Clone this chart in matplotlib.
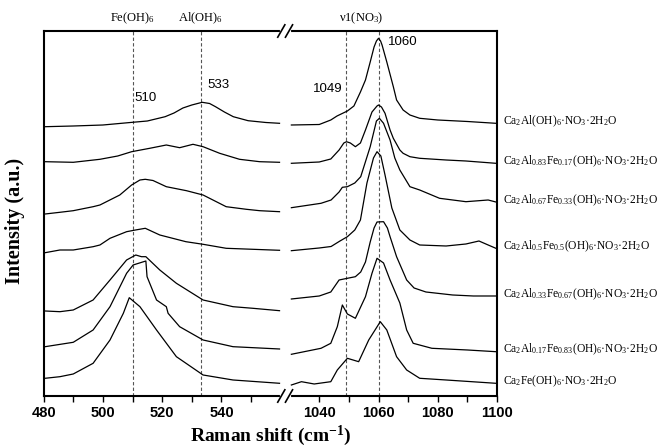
import numpy as np
import matplotlib
matplotlib.use('Agg')
import matplotlib.pyplot as plt
import matplotlib.transforms as mtransforms

plt.rcParams['font.family'] = 'Liberation Serif'
plt.rcParams['mathtext.fontset'] = 'custom'
plt.rcParams['mathtext.rm'] = 'Liberation Serif'
plt.rcParams['mathtext.it'] = 'Liberation Serif:italic'
plt.rcParams['mathtext.bf'] = 'Liberation Serif:bold'

# Raman spectra (x = Raman shift in cm-1, y = stacked intensity, a.u.)
x_al100 = [480.5, 490, 500, 510, 515, 521, 524, 527, 530, 533.5, 536, 538, 541, 544, 549, 555, 559.6,
           1030.6, 1040, 1043.9, 1046, 1049.5, 1051.7, 1053.9, 1055.6, 1057.2, 1058.5, 1059.3, 1060, 1060.7,
           1061.2, 1062.8, 1065, 1066.1, 1068.3, 1070.6, 1073.9, 1080, 1090, 1099.6]
y_al100 = [269.3, 270, 271, 273.7, 275, 279.3, 283, 288, 291, 293.7, 292.5, 289.3, 284, 279.3, 275.3, 273.5, 272.7,
           271, 271.5, 276, 280, 285, 290, 304, 316, 334, 349, 355, 357.7, 355,
           351, 334, 309.3, 296, 286, 281, 277.7, 276, 274.5, 272.7]

x_al83 = [480.5, 490, 499, 505, 509.7, 515.8, 521.4, 525.9, 530.4, 533.8, 539.4, 546.1, 552.9, 559.6,
          1030.6, 1040, 1043.9, 1046.7, 1048.3, 1049.2, 1050.5, 1052.2, 1053.9, 1055.6, 1057.8, 1059.5, 1060,
          1061, 1062.2, 1063.9, 1065, 1067.2, 1068.3, 1070.6, 1073.9, 1082.8, 1089.5, 1099.6]
y_al83 = [234.3, 233.7, 236.7, 240, 244.3, 247.7, 251, 248.3, 251.7, 249.3, 242.7, 236.7, 234.3, 233.7,
          232.7, 234, 237, 246, 253, 254.3, 253, 249.3, 253, 266, 284, 290, 291,
          289, 282.7, 266, 257.7, 246, 242.7, 239.3, 237.7, 236, 235, 232.7]

x_al67 = [480.5, 485.5, 490, 496.7, 499, 505.7, 509.7, 512.5, 514.3, 516.9, 521.4, 528.2, 533.8, 541.6,
          548.4, 552.9, 559.6,
          1030.6, 1040.6, 1044, 1046.7, 1047.8, 1049.5, 1052, 1054, 1057.2, 1059.3, 1060.3, 1061.7,
          1063.9, 1065.5, 1067.2, 1070.6, 1073.9, 1080.6, 1089.5, 1097, 1099.6]
y_al67 = [182, 183.7, 185.3, 189.3, 191, 201, 211, 216, 216.7, 215.5, 209.3, 205.3, 201, 189.3,
          186.7, 185.3, 184.3,
          188.3, 192.7, 196, 204, 208.7, 209.3, 213, 219.3, 249.3, 275, 277.7, 272.7,
          256, 238, 226, 209.3, 206, 197.7, 194.3, 196, 194]

x_al50 = [480.5, 485.5, 490, 496.7, 499, 502.4, 508, 511, 514.3, 519.2, 528, 533.8, 541.6, 559.6,
          1030.6, 1040, 1044, 1047, 1049.5, 1052, 1053.9, 1056.1, 1058.3, 1059.5, 1060.8, 1062.2,
          1064.5, 1067.2, 1070.6, 1073.9, 1082.8, 1089.5, 1093.9, 1097, 1099.6]
y_al50 = [143.3, 146, 146, 149.3, 151, 157.7, 164.3, 166, 167.7, 161, 154.3, 151.7, 147.7, 145.7,
          145.3, 148, 149.5, 155, 159.3, 166, 176, 213, 238, 244.3, 240, 221,
          188, 166, 156, 151, 150, 152, 155, 151, 147.7]

x_al33 = [480.5, 485.5, 490, 496.7, 502.4, 508, 511.1, 513, 514.5, 519.2, 524.8, 533.8, 543.9, 550.6, 559.6,
          1030.6, 1040, 1043.9, 1046.7, 1049.5, 1052.2, 1054, 1055.6, 1057.2, 1058.5, 1059.5, 1061.7,
          1063, 1063.9, 1066.1, 1069.5, 1072, 1076, 1085, 1092, 1099.6]
y_al33 = [85, 84.3, 86, 96, 116, 136, 141, 139.3, 139.3, 126, 112.7, 96, 89.3, 87.7, 85.3,
          97, 100, 104, 116, 117.7, 119.3, 124, 134, 154, 168, 174, 174.3,
          168, 159.3, 139.3, 116, 108, 104, 101, 100, 100]

x_al17 = [480.5, 490, 496.7, 502.4, 508, 510.2, 514.5, 514.9, 518.1, 521.4, 522, 525.9, 533.8, 543.9, 559.6,
          1030.6, 1040.6, 1043.9, 1046.1, 1047.8, 1049.5, 1052.2, 1055.6, 1057.8, 1059.5, 1061.7,
          1063.9, 1067.2, 1069.5, 1071.7, 1078, 1090, 1099.6]
y_al17 = [49.3, 53.7, 66, 89.3, 122.7, 131, 135, 119.3, 96, 89.3, 82.7, 69.3, 56, 49.3, 47,
          41.7, 47.7, 52.7, 69.3, 91, 82, 77.7, 99.3, 122.7, 137.7, 133,
          116, 93, 66, 52.7, 47.7, 46, 44.3]

x_fe100 = [480.5, 485.5, 490, 496.7, 502.4, 506.9, 508.9, 512.5, 518.1, 524.8, 533.8, 543.9, 559.6,
           1030.6, 1034, 1038.3, 1043.9, 1046.1, 1049.5, 1053.3, 1056.7, 1060.6, 1062.8, 1066.1,
           1069.5, 1073.9, 1082.8, 1099.6]
y_fe100 = [17.7, 19.3, 22, 32.7, 56, 82.7, 98.3, 89.3, 66, 39.3, 21, 16, 12.7,
           11, 14.3, 12, 14.3, 26, 37.7, 34.3, 56, 74.3, 66, 39.3,
           26, 17.7, 16, 12.7]

sample_labels = [
    'Ca$_2$Al(OH)$_6$·NO$_3$·2H$_2$O',
    'Ca$_2$Al$_{0.83}$Fe$_{0.17}$(OH)$_6$·NO$_3$·2H$_2$O',
    'Ca$_2$Al$_{0.67}$Fe$_{0.33}$(OH)$_6$·NO$_3$·2H$_2$O',
    'Ca$_2$Al$_{0.5}$Fe$_{0.5}$(OH)$_6$·NO$_3$·2H$_2$O',
    'Ca$_2$Al$_{0.33}$Fe$_{0.67}$(OH)$_6$·NO$_3$·2H$_2$O',
    'Ca$_2$Al$_{0.17}$Fe$_{0.83}$(OH)$_6$·NO$_3$·2H$_2$O',
    'Ca$_2$Fe(OH)$_6$·NO$_3$·2H$_2$O',
]
spectra = [(x_al100, y_al100), (x_al83, y_al83), (x_al67, y_al67), (x_al50, y_al50),
           (x_al33, y_al33), (x_al17, y_al17), (x_fe100, y_fe100)]

peak_lines = [510, 533, 1049, 1060]
major_ticks = [480, 500, 520, 540, 1040, 1060, 1080, 1100]
minor_ticks = [490, 510, 530, 550, 1050, 1070, 1090]


# broken x axis: 480-560 and 1030-1100 on one axis
def to_pos(x):
    x = np.asarray(x, dtype=float)
    return np.where(x < 800, x - 480, x - 1030 + 83)


fig = plt.figure(figsize=(6.67, 4.48), dpi=100)
ax = fig.add_axes([0.0654, 0.1161, 0.6798, 0.8147])

for (xs, ys), lab in zip(spectra, sample_labels):
    xs = np.array(xs)
    ys = np.array(ys)
    lo = xs < 800
    ax.plot(to_pos(xs[lo]), ys[lo], color='black', lw=0.9)
    ax.plot(to_pos(xs[~lo]), ys[~lo], color='black', lw=0.9)
    ax.text(to_pos(1100) + 2, ys[-1] + 2, lab, fontsize=8.3, ha='left', va='center', clip_on=False)

for p in peak_lines:
    ax.axvline(to_pos(p), color='#555555', lw=0.8, ls=(0, (3, 2)), zorder=0)

ax.set_xlim(0, to_pos(1100))
ax.set_ylim(0, 365)

ax.set_xticks(to_pos(major_ticks))
ax.set_xticklabels([str(t) for t in major_ticks], fontfamily='Liberation Sans',
                   fontweight='bold', fontsize=10.5)
ax.set_xticks(to_pos(minor_ticks), minor=True)
ax.tick_params(axis='x', which='both', direction='out', length=4, width=1, top=False)
ax.set_yticks([])
for s in ax.spines.values():
    s.set_linewidth(1.5)

ax.set_xlabel('Raman shift (cm$^{\\mathbf{-1}}$)', fontsize=14, fontweight='bold', labelpad=2)
ax.set_ylabel('Intensity (a.u.)', fontsize=14.5, fontweight='bold')
ax.yaxis.set_label_coords(-0.04, 0.48)

# top annotations
trans = mtransforms.blended_transform_factory(ax.transData, ax.transAxes)
ax.text(to_pos(510), 1.015, 'Fe(OH)$_6$', fontsize=9, ha='center', va='bottom', transform=trans)
ax.text(to_pos(533), 1.015, 'Al(OH)$_6$', fontsize=9, ha='center', va='bottom', transform=trans)
ax.text(to_pos(1054.3), 1.015, 'ν1(NO$_3$)', fontsize=9, ha='center', va='bottom', transform=trans)

# peak positions
ax.text(to_pos(510.8), 298, '510', fontsize=9.5, fontfamily='Liberation Sans', ha='left', va='center')
ax.text(to_pos(535.2), 311, '533', fontsize=9.5, fontfamily='Liberation Sans', ha='left', va='center')
ax.text(to_pos(1048), 307, '1049', fontsize=9.5, fontfamily='Liberation Sans', ha='right', va='center')
ax.text(to_pos(1063.2), 354, '1060', fontsize=9.5, fontfamily='Liberation Sans', ha='left', va='center')

# axis break marks
for yb in (0, 1):
    ax.plot([to_pos(560) + 0.3, 83 - 0.3], [yb, yb], color='white', lw=3, transform=trans,
            clip_on=False, zorder=5)
    for xb in (80.2, 82.8):
        ax.plot([xb - 1.2, xb + 1.2], [yb - 0.017, yb + 0.017], color='black', lw=1.2,
                transform=trans, clip_on=False, zorder=6)

fig.savefig('out.png', dpi=100)
